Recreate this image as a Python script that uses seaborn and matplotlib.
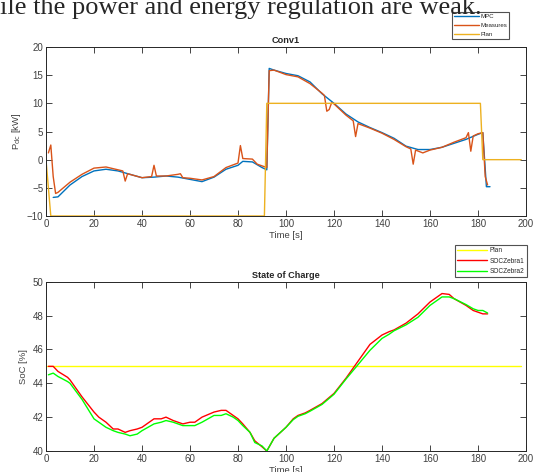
import numpy as np
import pandas as pd
import matplotlib
matplotlib.use("Agg")
import matplotlib.pyplot as plt
import seaborn as sns

sns.set_style("ticks")
plt.rcParams['font.family'] = ['Liberation Sans', 'DejaVu Sans']

# ---- Conv1 power [kW] ----
mpc_t = [3, 5, 10, 15, 20, 25, 30, 35, 40, 45, 50, 55, 60, 65, 70, 75, 80, 82, 86, 90, 92,
         93, 95, 100, 105, 110, 115, 120, 125, 130, 135, 140, 145, 150, 155, 160, 165, 170,
         175, 180, 182, 183.5, 185]
mpc_p = [-6.7, -6.6, -4.5, -3.0, -2.0, -1.7, -2.0, -2.6, -3.2, -3.1, -2.9, -3.1, -3.5, -3.9,
         -3.1, -1.7, -1.0, -0.3, -0.4, -1.4, -1.8,
         16.2, 15.9, 15.3, 14.9, 13.8, 11.7, 10.0, 8.1, 6.7, 5.7, 4.8, 3.8, 2.4, 1.8, 1.8,
         2.2, 2.9, 3.6, 4.5, 4.8, -4.8, -4.8]

meas_t = [1, 2, 3, 4, 5, 10, 15, 20, 25, 30, 32, 33, 34, 40, 44, 45, 46, 50, 55, 56, 57,
          60, 65, 70, 75, 80, 81, 82, 86, 88, 92,
          93, 95, 100, 105, 110, 115, 116, 117, 118, 119, 120, 125, 128, 129, 130, 135, 140,
          145, 150, 152, 153, 154, 157, 160, 165, 170, 175, 176, 177, 178, 180, 182, 183, 184]
meas_p = [1.2, 2.6, -3.0, -6.0, -5.8, -4.0, -2.6, -1.5, -1.3, -1.8, -2.0, -3.8, -2.5, -3.2,
          -3.0, -1.0, -2.9, -2.9, -2.6, -2.5, -3.2,
          -3.3, -3.6, -3.0, -1.4, -0.6, 2.5, 0.2, 0.1, -0.8, -1.4,
          15.8, 15.9, 15.1, 14.7, 13.5, 11.8, 11.4, 8.6, 8.9, 10.1, 9.9, 7.9, 6.9, 4.1, 6.4,
          5.6, 4.7, 3.6, 2.3, 1.9, -0.8, 1.7, 1.2, 1.7, 2.2, 3.1, 3.9, 4.8, 1.5, 4.2, 4.6,
          4.8, -3.0, -4.5]

plan_t = [0, 2, 91, 92, 181, 182, 198]
plan_p = [0, -10, -10, 10, 10, 0, 0]

# ---- State of charge [%] ----
soc_t = [1, 3, 5, 9, 10, 15, 20, 22, 25, 28, 30, 33, 35, 38, 40, 45, 48, 50, 53, 57, 60, 62,
         65, 70, 73, 75, 78, 80, 82, 85, 87, 90, 92, 95, 100, 103, 105, 108, 110, 115, 120,
         125, 130, 135, 140, 143, 145, 150, 155, 160, 165, 168, 170, 175, 178, 180, 182, 184]
soc_z1 = [45.0, 45.0, 44.7, 44.35, 44.2, 43.2, 42.3, 42.0, 41.7, 41.3, 41.3, 41.1, 41.2,
          41.3, 41.4, 41.9, 41.9, 42.0, 41.8, 41.6, 41.7, 41.7, 42.0, 42.3, 42.4, 42.4, 42.1,
          41.9, 41.6, 41.1, 40.6, 40.25, 40.0, 40.75, 41.4, 41.9, 42.1, 42.25, 42.4, 42.8,
          43.4, 44.3, 45.3, 46.3, 46.85, 47.05, 47.15, 47.55, 48.1, 48.8, 49.3, 49.25, 49.0,
          48.6, 48.3, 48.2, 48.1, 48.1]
soc_z2 = [44.5, 44.6, 44.4, 44.1, 44.0, 43.05, 41.9, 41.7, 41.4, 41.2, 41.1, 41.0, 40.9,
          41.0, 41.2, 41.6, 41.7, 41.8, 41.7, 41.5, 41.5, 41.5, 41.7, 42.1, 42.1, 42.2, 42.0,
          41.8, 41.5, 41.1, 40.5, 40.3, 40.0, 40.75, 41.4, 41.85, 42.05, 42.2, 42.35, 42.75,
          43.35, 44.25, 45.1, 45.95, 46.65, 46.9, 47.1, 47.45, 47.9, 48.6, 49.1, 49.1, 49.0,
          48.65, 48.4, 48.3, 48.3, 48.15]
soc_plan_t = [0, 198]
soc_plan = [45, 45]

fig = plt.figure(figsize=(5.33, 4.72), dpi=100)
ax1 = fig.add_axes([46 / 533, 1 - 216 / 472, 480 / 533, 169 / 472])
ax2 = fig.add_axes([46 / 533, 1 - 451 / 472, 480 / 533, 169.3 / 472])

# caption line of the surrounding document, clipped at the top
fig.text(0.0, 1 - 14 / 472, "ile the power and energy regulation are weak.",
         family=['Liberation Serif'], fontsize=19, ha='left', va='baseline')

kw = dict(estimator=None, sort=False, linewidth=1.0)
sns.lineplot(x=mpc_t, y=mpc_p, color='#0072BD', label='MPC', ax=ax1, **kw)
sns.lineplot(x=meas_t, y=meas_p, color='#D95319', label='Measures', ax=ax1, **kw)
sns.lineplot(x=plan_t, y=plan_p, color='#EDB120', label='Plan', ax=ax1, **kw)

sns.lineplot(x=soc_plan_t, y=soc_plan, color='#FFFF00', label='Plan', ax=ax2, **kw)
sns.lineplot(x=soc_t, y=soc_z1, color='#FF0000', label='SOCZebra1', ax=ax2, **kw)
sns.lineplot(x=soc_t, y=soc_z2, color='#00FF00', label='SOCZebra2', ax=ax2, **kw)

ax1.set_xlim(0, 200)
ax1.set_ylim(-10, 20)
ax1.set_yticks([-10, -5, 0, 5, 10, 15, 20])
ax2.set_xlim(0, 200)
ax2.set_ylim(40, 50)
ax2.set_yticks([40, 42, 44, 46, 48, 50])

for ax in (ax1, ax2):
    ax.set_xticks(range(0, 201, 20))
    ax.tick_params(direction='in', top=True, right=True, length=4, width=0.6,
                   labelsize=7, labelcolor='#404040', color='#262626', pad=2)
    for s in ax.spines.values():
        s.set_linewidth(0.7)
        s.set_color('#262626')
    ax.set_xlabel('Time [s]', fontsize=6.8, color='#404040', labelpad=1.5)

ax1.set_ylabel('P$_{\\mathrm{dc}}$ [kW]', fontsize=6.8, color='#404040', labelpad=3)
ax2.set_ylabel('SoC [%]', fontsize=6.8, color='#404040', labelpad=3)
ax1.set_title('Conv1', fontsize=6.6, fontweight='bold', pad=3)
ax2.set_title('State of Charge', fontsize=6.6, fontweight='bold', pad=3)

leg1 = ax1.legend(loc='upper left', bbox_to_anchor=(452 / 533, 1 - 12 / 472),
                  bbox_transform=fig.transFigure, fontsize=4.4, frameon=True,
                  fancybox=False, borderpad=0.35, labelspacing=0.55, handlelength=4.0,
                  handletextpad=0.3, borderaxespad=0)
leg2 = ax2.legend(loc='upper left', bbox_to_anchor=(455 / 533, 1 - 245 / 472),
                  bbox_transform=fig.transFigure, fontsize=4.7, frameon=True,
                  fancybox=False, borderpad=0.35, labelspacing=0.5, handlelength=4.5,
                  handletextpad=0.5, borderaxespad=0)
for leg in (leg1, leg2):
    leg.get_frame().set_edgecolor('#262626')
    leg.get_frame().set_linewidth(0.8)
    for t in leg.get_texts():
        t.set_color('#262626')

fig.savefig('out.png', dpi=100)
